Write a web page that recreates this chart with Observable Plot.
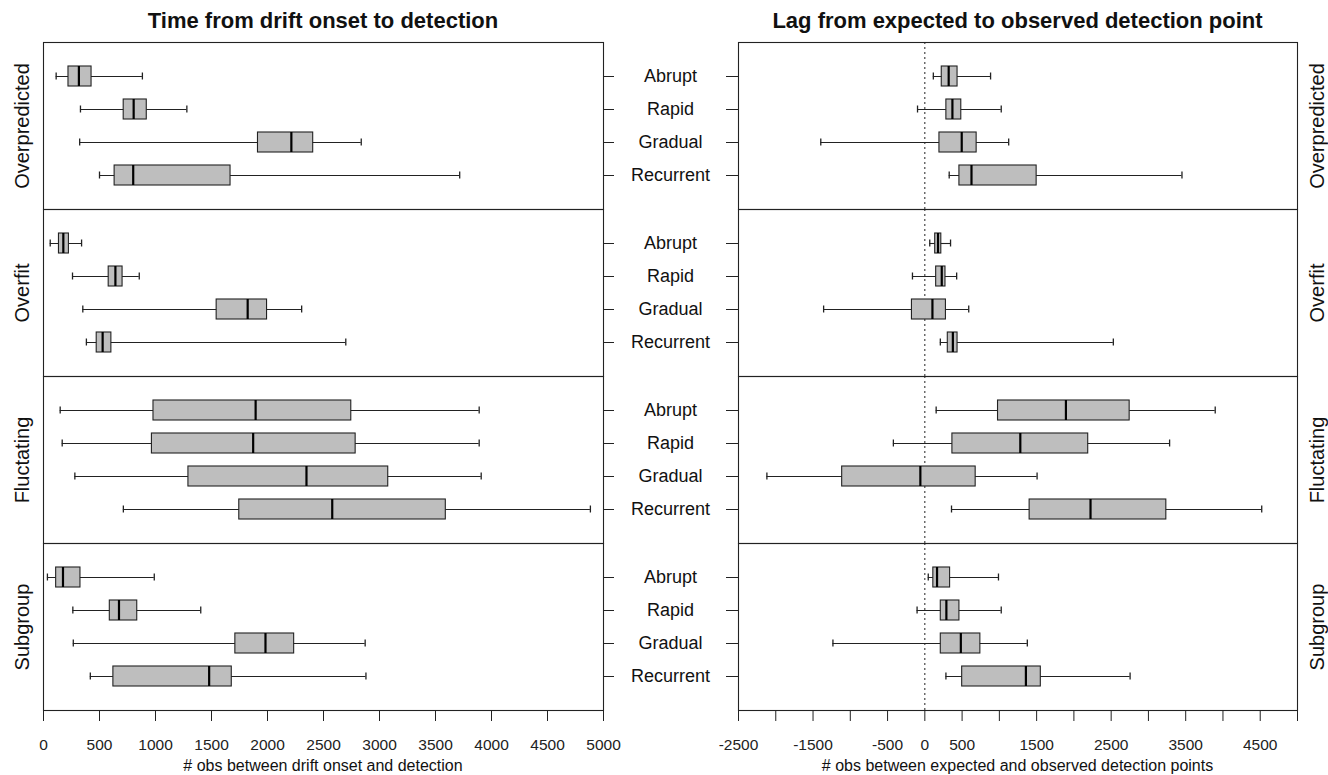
<!DOCTYPE html>
<html>
<head>
<meta charset="utf-8">
<script src="https://cdn.jsdelivr.net/npm/d3@7"></script>
<script src="https://cdn.jsdelivr.net/npm/@observablehq/plot@0.6"></script>
<style>
  html, body { margin: 0; padding: 0; background: white; }
  #wrap { position: relative; width: 1328px; height: 775px; overflow: hidden; font-family: "Liberation Sans", Arial, sans-serif; color: #111; }
  .abs { position: absolute; }
  .title { font-weight: bold; font-size: 22px; transform: translate(-50%, -50%); white-space: nowrap; }
  .xlab { font-size: 16px; transform: translate(-50%, -50%); white-space: nowrap; }
</style>
</head>
<body>
<div id="wrap"></div>
<script>
// ---- data ----
const facets = ["Overpredicted", "Overfit", "Fluctating", "Subgroup"];
const types = ["Abrupt", "Rapid", "Gradual", "Recurrent"];

// Left panel: time from drift onset to detection (facet-major order)
const onsetMin = [113, 330, 323, 500,   60, 259, 351, 383,   149, 167, 280, 713,    35, 262, 266, 418];
const onsetQ1  = [223, 716, 1915, 635,  138, 582, 1546, 475, 982, 968, 1294, 1748,  113, 592, 1713, 624];
const onsetMed = [316, 805, 2213, 801,  177, 642, 1823, 528, 1894, 1872, 2348, 2578, 174, 674, 1982, 1479];
const onsetQ3  = [429, 922, 2408, 1670, 227, 706, 1996, 606, 2748, 2787, 3078, 3592, 330, 837, 2238, 1681];
const onsetMax = [883, 1280, 2837, 3716, 340, 855, 2305, 2699, 3890, 3890, 3908, 4883, 989, 1404, 2872, 2879];

// Right panel: lag from expected to observed detection point
const lagMin = [114, -98, -1396, 327,  66, -166, -1358, 208,  152, -422, -2119, 358,   46, -104, -1233, 283];
const lagQ1  = [227, 289, 196, 464,    139, 152, -173, 308,   982, 370, -1109, 1406,   114, 214, 214, 501];
const lagMed = [320, 370, 495, 626,    177, 227, 102, 376,    1893, 1281, -60, 2223,   164, 289, 483, 1356];
const lagQ3  = [439, 489, 695, 1500,   221, 277, 283, 439,    2748, 2192, 682, 3240,   339, 464, 745, 1556];
const lagMax = [882, 1025, 1125, 3450, 345, 427, 589, 2529,   3896, 3284, 1506, 4520,  988, 1025, 1375, 2754];

const onsetTicks = [0, 500, 1000, 1500, 2000, 2500, 3000, 3500, 4000, 4500, 5000];
const lagTicks = [-2500, -2000, -1500, -1000, -500, 0, 500, 1000, 1500, 2000, 2500, 3000, 3500, 4000, 4500, 5000];
const lagTickLabels = [-2500, -1500, -500, 0, 500, 1500, 2500, 3500, 4500];

const titles = ["Time from drift onset to detection", "Lag from expected to observed detection point"];
const xLabels = ["# obs between drift onset and detection", "# obs between expected and observed detection points"];

// ---- build rows ----
function rows(mn, q1, md, q3, mx) {
  const out = [];
  facets.forEach((f, i) => types.forEach((t, j) => {
    const k = i * types.length + j;
    out.push({facet: f, type: t, min: mn[k], q1: q1[k], med: md[k], q3: q3[k], max: mx[k]});
  }));
  return out;
}
const onsetRows = rows(onsetMin, onsetQ1, onsetMed, onsetQ3, onsetMax);
const lagRows = rows(lagMin, lagQ1, lagMed, lagQ3, lagMax);

const ink = "#222";
const FONT = "'Liberation Sans', Arial, sans-serif";

function boxMarks(data) {
  return [
    Plot.ruleY(data, {y: "type", fy: "facet", x1: "min", x2: "max", stroke: ink, strokeWidth: 1.1}),
    Plot.tickX(data, {x: "min", y: "type", fy: "facet", insetTop: 6.5, insetBottom: 6.5, stroke: ink, strokeWidth: 1.3}),
    Plot.tickX(data, {x: "max", y: "type", fy: "facet", insetTop: 6.5, insetBottom: 6.5, stroke: ink, strokeWidth: 1.3}),
    Plot.barX(data, {y: "type", fy: "facet", x1: "q1", x2: "q3", fill: "#bebebe", stroke: ink, strokeWidth: 1.1}),
    Plot.tickX(data, {x: "med", y: "type", fy: "facet", stroke: "#000", strokeWidth: 2.2})
  ];
}

function panel({data, domain, ticks, tickFormat, width, marginLeft, marginRight, side}) {
  return Plot.plot({
    width, height: 775,
    marginTop: 42, marginBottom: 65, marginLeft, marginRight,
    style: {fontFamily: FONT, fontSize: "15px", color: ink, background: "transparent", overflow: "visible", maxWidth: "none"},
    x: {domain},
    y: {type: "band", domain: types, paddingInner: 0.4, paddingOuter: 0.7},
    fy: {domain: facets, padding: 0, axis: null},
    marks: [
      side === "right" ? Plot.ruleX([0], {stroke: ink, strokeDasharray: "2,3", strokeWidth: 1}) : null,
      ...boxMarks(data),
      Plot.frame({stroke: ink, strokeWidth: 1.1}),
      Plot.axisX({anchor: "bottom", ticks, tickSize: 11, tickPadding: 17, tickFormat, fontSize: 15.5, label: null, stroke: ink}),
      Plot.axisY({anchor: side === "left" ? "right" : "left", tickSize: side === "left" ? 10 : 12, tickFormat: () => "", label: null, stroke: ink}),
      side === "right"
        ? Plot.text(types, {y: d => d, text: d => d, frameAnchor: "left", dx: -68, textAnchor: "middle", lineAnchor: "middle", fontSize: 18, fill: "#111"})
        : null,
      Plot.text(facets, {
        fy: d => d, text: d => d,
        frameAnchor: side === "left" ? "left" : "right",
        dx: side === "left" ? -21 : 20,
        rotate: -90, textAnchor: "middle", lineAnchor: "middle", fontSize: 20, fill: "#111"
      })
    ].filter(Boolean)
  });
}

const wrap = document.getElementById("wrap");

const left = panel({
  data: onsetRows, domain: [0, 5000], ticks: onsetTicks,
  tickFormat: d => String(d),
  width: 618, marginLeft: 43, marginRight: 15, side: "left"
});
left.style.position = "absolute"; left.style.left = "0px"; left.style.top = "0px";
wrap.appendChild(left);

const right = panel({
  data: lagRows, domain: [-2500, 5000], ticks: lagTicks,
  tickFormat: d => lagTickLabels.includes(d) ? String(d) : "",
  width: 710, marginLeft: 120, marginRight: 31, side: "right"
});
right.style.position = "absolute"; right.style.left = "618px"; right.style.top = "0px";
wrap.appendChild(right);

// titles and axis labels
const centers = [323, 1017.5];
titles.forEach((t, i) => {
  const d = document.createElement("div");
  d.className = "abs title"; d.textContent = t;
  d.style.left = centers[i] + "px"; d.style.top = "21px";
  wrap.appendChild(d);
});
xLabels.forEach((t, i) => {
  const d = document.createElement("div");
  d.className = "abs xlab"; d.textContent = t;
  d.style.left = centers[i] + "px"; d.style.top = "766px";
  wrap.appendChild(d);
});
</script>
</body>
</html>
